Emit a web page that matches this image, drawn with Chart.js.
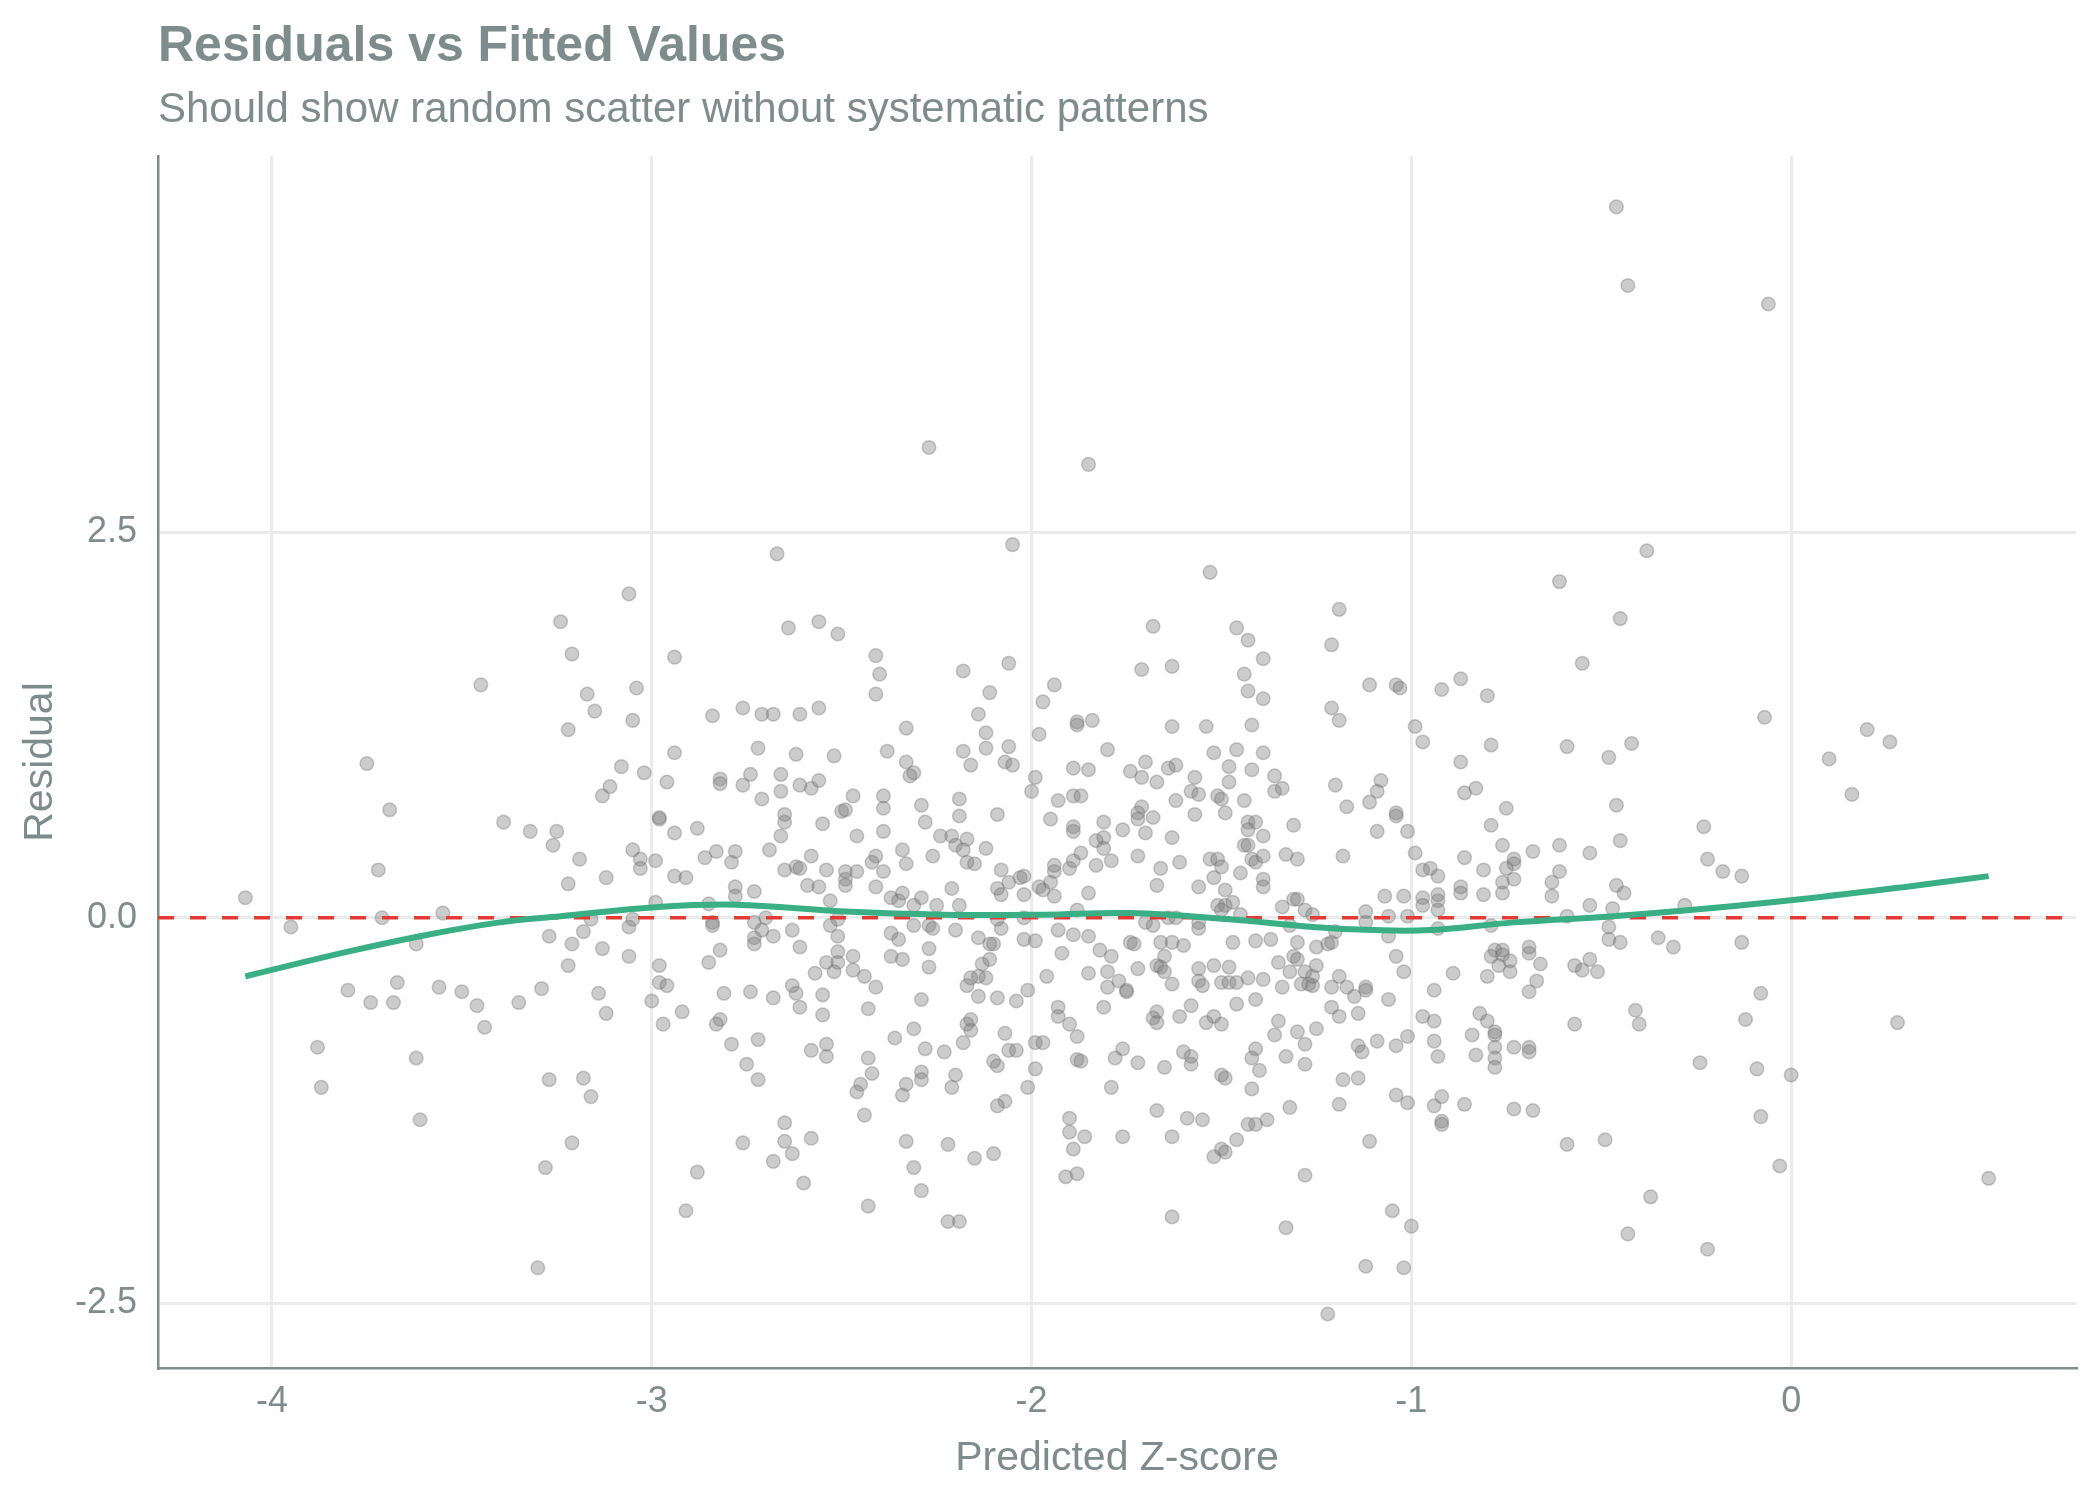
<!DOCTYPE html>
<html>
<head>
<meta charset="utf-8">
<script src="https://cdn.jsdelivr.net/npm/chart.js@4.4.0/dist/chart.umd.min.js"></script>
<style>
html,body{margin:0;padding:0;background:#ffffff;}
#wrap{position:relative;width:2100px;height:1500px;overflow:hidden;}
canvas{position:absolute;left:0;top:0;}
#title{position:absolute;left:158px;top:19px;font:bold 50px "Liberation Sans",Arial,sans-serif;color:#7F8C8D;line-height:1;white-space:nowrap;}
#subtitle{position:absolute;left:158px;top:87px;font:42px "Liberation Sans",Arial,sans-serif;color:#7F8C8D;line-height:1;white-space:nowrap;}
</style>
</head>
<body>
<div id="wrap">
<canvas id="c" width="2100" height="1500" style="width:2100px;height:1500px;"></canvas>
<div id="title">Residuals vs Fitted Values</div>
<div id="subtitle">Should show random scatter without systematic patterns</div>
</div>
<script>
// ---------- DATA ----------
const chartTitle = "Residuals vs Fitted Values";
const chartSubtitle = "Should show random scatter without systematic patterns";
const xAxisTitle = "Predicted Z-score";
const yAxisTitle = "Residual";

const xTickValues = [-4, -3, -2, -1, 0];
const xTickLabels = ["-4", "-3", "-2", "-1", "0"];
const yTickValues = [-2.5, 0, 2.5];
const yTickLabels = ["-2.5", "0.0", "2.5"];

const xRange = [-4.30, 0.75];
const yRange = [-2.92, 4.94];

// fitted values (x) and residuals (y)
const fittedVals = [
-4.07,-3.95,-3.75,-3.69,-3.72,-3.71,-3.80,-3.74,-3.67,-3.68,-3.88,-3.87,-3.62,-3.61,-3.62,-3.55,-3.56,-3.50,-3.46,-3.44,
-3.45,-3.39,-3.32,-3.35,-3.29,-3.25,-3.26,-3.27,-3.22,-3.19,-3.21,-3.22,-3.24,-3.21,-3.22,-3.17,-3.15,-3.06,-3.04,-3.05,
-3.08,-3.11,-3.13,-3.12,-3.05,-3.03,-3.03,-3.16,-3.18,-3.13,-3.06,-3.05,-3.06,-3.14,-3.12,-3.18,-3.16,-3.27,-3.21,-3.28,
-3.30,-3.00,
-2.67,-2.05,-2.64,-2.56,-2.51,-2.94,-2.41,-2.40,-2.41,-2.18,-2.06,-2.11,-2.14,-2.12,-2.12,-2.06,-2.07,-2.05,-2.18,-2.16,
-2.84,-2.76,-2.71,-2.68,-2.61,-2.56,-2.33,-2.38,-2.33,-2.32,-2.31,-2.94,-2.72,-2.62,-2.52,-3.02,-2.96,-2.82,-2.82,-2.74,
-2.76,-2.66,-2.66,-2.71,-2.61,-2.58,-2.56,-2.47,-2.50,-2.49,-2.98,-2.98,-2.94,-2.88,-2.65,-2.65,-2.66,-2.69,-2.55,-2.46,
-2.39,-2.39,-2.39,-2.29,-2.28,-2.19,-2.19,-2.09,-2.00,-2.99,-2.94,-2.91,-2.86,-2.83,-2.79,-2.78,-2.78,-2.78,-2.73,-2.99,
-2.85,-2.65,-2.62,-2.61,-2.58,-2.59,-2.56,-2.54,-2.53,-2.49,-2.49,-2.49,-2.46,-2.41,-2.42,-2.39,-2.41,-2.34,-2.33,-2.37,
-2.35,-2.34,-2.31,-2.29,-2.26,-2.25,-2.24,-2.21,-2.20,-2.17,-2.18,-2.17,-2.15,-2.12,-2.21,-2.19,-2.08,-2.06,-2.09,-2.08,
-2.03,-2.02,-2.02,
-2.84,-2.84,-2.73,-2.70,-2.71,-2.73,-2.73,-2.68,-2.63,-2.61,-2.82,-2.85,-2.98,-2.98,-2.96,-2.92,-2.97,-2.81,-2.82,-2.83,
-2.74,-2.68,-2.63,-2.62,-2.61,-2.79,-2.72,-2.75,-2.72,-2.58,-2.54,-2.54,-2.57,-2.55,-2.55,-2.53,-2.51,-2.51,-2.51,-2.54,
-2.51,-2.52,-2.47,-2.47,-2.44,-2.41,-2.43,-2.43,-2.42,-2.45,-2.46,-2.44,-2.65,-2.65,-2.63,-2.58,-2.68,-2.76,-2.60,-2.88,
-2.91,-2.43,-2.37,-2.35,-2.37,-2.34,-2.31,-2.27,-2.26,-2.20,-2.27,-2.27,-2.29,-2.31,-2.36,-2.28,-2.23,-2.18,-2.29,-2.29,
-2.33,-2.34,-2.20,-2.21,-2.33,-2.31,-2.29,-2.22,-2.22,-2.19,-2.15,-2.10,-2.07,-2.10,-2.09,-2.06,-2.04,-2.07,-2.09,-2.01,
-2.17,-2.16,-2.16,-2.01,-2.04,-2.09,-2.14,-2.12,-2.17,-2.16,-2.14,-2.13,-2.11,-2.14,-2.11,-2.10,-2.02,-2.08,-2.09,-2.02,
-1.53,-1.19,-1.68,-1.46,-1.43,-1.39,-1.21,-1.71,-1.63,-1.44,-1.43,-1.39,-1.94,-1.97,-1.98,-1.11,-1.04,-1.03,-1.21,-1.19,
-0.99,-1.88,-1.88,-1.84,-1.63,-1.54,-1.42,-1.80,-1.52,-1.46,-1.39,-1.89,-1.85,-1.99,-1.70,-1.74,-1.71,-1.67,-1.64,-1.62,
-1.57,-1.48,-1.42,-1.48,-1.36,-1.36,-1.34,-1.20,-1.17,-1.08,-1.09,-1.11,-1.04,-1.04,-1.09,-1.01,-1.18,-0.99,-1.07,-1.02,
-1.93,-1.89,-1.87,-1.95,-1.89,-1.89,-1.81,-1.83,-1.81,-1.81,-1.76,-1.71,-1.72,-1.72,-1.68,-1.70,-1.62,-1.57,-1.58,-1.56,
-1.51,-1.50,-1.49,-1.44,-1.63,-1.43,-1.41,-1.43,-1.39,-1.44,-1.43,-1.42,-1.41,-1.39,-1.31,-1.33,-1.30,-1.98,-1.97,-1.95,
-1.94,-1.94,-1.94,-1.90,-1.89,-1.87,-1.83,-1.79,-1.85,-1.88,-1.72,-1.66,-1.61,-1.67,-1.56,-1.53,-1.51,-1.50,-1.52,-1.45,
-1.49,-1.39,-1.39,-1.51,-1.49,-1.47,-1.50,-1.45,-1.34,-1.31,-1.30,-1.28,-1.26,-1.12,-1.06,-1.01,
-1.99,-1.99,-1.99,-1.97,-1.93,-1.89,-1.85,-1.92,-1.96,-1.85,-1.82,-1.79,-1.80,-1.80,-1.77,-1.75,-1.75,-1.74,-1.73,-1.72,
-1.70,-1.68,-1.66,-1.63,-1.60,-1.65,-1.67,-1.66,-1.65,-1.63,-1.93,-1.93,-1.90,-1.88,-1.81,-1.67,-1.68,-1.67,-1.61,-1.58,
-1.64,-1.62,-1.56,-1.56,-1.56,-1.56,-1.55,-1.52,-1.48,-1.50,-1.48,-1.46,-1.47,-1.43,-1.39,-1.41,-1.37,-1.46,-1.41,-1.52,
-1.54,-1.50,-1.35,-1.36,-1.35,-1.34,-1.32,-1.31,-1.30,-1.30,-1.32,-1.28,-1.29,-1.27,-1.26,-1.26,-1.25,-1.25,-1.22,-1.21,
-1.19,-1.21,-1.21,-1.19,-1.17,-1.15,-1.14,-1.12,-1.12,-1.06,-1.06,-1.04,-1.02,-1.12,-1.20,-1.30,-1.28,-1.28,-1.25,-1.33,
-1.41,-1.42,-1.40,-1.42,-1.50,-1.49,-1.60,-1.58,-1.58,-1.65,-1.72,-1.76,-1.78,-1.88,-1.87,-1.79,-1.67,-1.59,-1.55,-1.63,
-1.76,-1.90,-1.90,-1.86,-1.89,-1.91,-1.88,-1.63,-1.52,-1.50,-1.49,-1.46,-1.43,-1.41,-1.38,-1.32,-1.28,-1.33,-1.18,-1.14,
-1.19,-1.14,-1.13,-1.09,-1.04,-1.01,-1.04,-1.01,-1.11,-1.05,-1.00,-1.12,-1.02,-1.22,
-0.38,-0.61,-0.45,-0.55,-0.92,-0.87,-0.80,-0.07,-0.97,-0.79,-0.59,-0.48,-0.42,-0.87,-0.86,-0.83,-0.75,-0.79,-0.46,-0.23,
-0.45,-0.61,-0.76,-0.68,-0.53,-0.86,-0.97,-0.95,-0.93,-0.81,-0.73,-0.73,-0.75,-0.73,-0.76,-0.76,-0.81,-0.87,-0.87,-0.93,
-0.97,-0.97,-0.93,-0.93,-0.61,-0.63,-0.63,-0.59,-0.53,-0.46,-0.44,-0.47,-0.28,-0.22,-0.18,-0.13,
-0.93,-0.79,-0.48,-0.48,-0.45,-0.35,-0.31,-0.13,-0.08,-0.12,-0.89,-0.94,-0.97,-0.94,-0.94,-0.93,-0.94,-0.92,-0.86,-0.92,
-0.92,-0.78,-0.76,-0.79,-0.76,-0.74,-0.77,-0.80,-0.74,-0.69,-0.69,-0.66,-0.67,-0.69,-0.57,-0.55,-0.53,-0.51,-0.82,-0.80,
-0.78,-0.78,-0.84,-0.78,-0.83,-0.78,-0.78,-0.73,-0.69,-0.69,-0.57,-0.41,-0.40,-0.24,-0.09,0.00,-0.08,-0.03,-0.73,-0.68,
-0.59,-0.49,-0.37,-0.43,-0.22,
0.10,0.20,0.26,0.16,0.28,0.52,-0.46,-0.43,-0.06,-2.27,-1.85
];
const residualVals = [
0.13,-0.06,1.00,0.70,0.31,0.00,-0.47,-0.55,-0.42,-0.55,-0.84,-1.10,-0.91,-1.31,-0.17,0.03,-0.45,-0.48,-0.57,-0.71,
1.51,0.62,0.56,-0.55,-0.46,0.56,0.47,-0.12,0.22,0.38,-0.17,-0.31,1.92,1.71,1.22,1.45,1.34,2.10,1.49,1.28,
0.98,0.85,0.79,0.26,0.44,0.38,0.32,-0.01,-0.09,-0.20,-0.06,-0.01,-0.25,-0.49,-0.62,-1.04,-1.16,-1.05,-1.46,-1.62,
-2.27,-0.54,
2.36,2.42,1.88,1.92,1.84,1.69,1.70,1.58,1.45,1.60,1.65,1.46,1.32,1.20,1.10,1.11,1.01,0.99,1.08,0.99,
1.31,1.36,1.32,1.32,1.32,1.36,1.23,1.08,1.01,0.92,0.94,1.07,1.10,1.06,1.05,0.94,0.88,0.90,0.87,0.93,
0.86,0.93,0.82,0.77,0.86,0.84,0.89,0.79,0.69,0.70,0.64,0.65,0.55,0.58,0.67,0.62,0.53,0.44,0.61,0.53,
0.79,0.71,0.56,0.73,0.62,0.77,0.66,0.67,0.82,0.37,0.27,0.26,0.39,0.43,0.36,0.43,0.20,0.14,0.17,0.10,
0.09,0.31,0.33,0.32,0.40,0.21,0.20,0.31,0.11,0.30,0.25,0.21,0.30,0.40,0.36,0.30,0.20,0.44,0.35,0.13,
0.11,0.16,0.08,0.13,0.40,0.08,0.53,0.53,0.47,0.51,0.44,0.36,0.35,0.45,0.19,0.08,0.31,0.23,0.19,0.15,
0.26,0.27,0.15,
-0.03,-0.05,-0.03,0.00,-0.08,-0.13,-0.17,-0.12,-0.08,-0.19,-0.21,-0.29,-0.31,-0.42,-0.44,-0.61,-0.69,-0.49,-0.66,-0.69,
-0.48,-0.52,-0.44,-0.49,-0.58,-0.82,-0.79,-0.95,-1.05,-0.86,-0.82,-0.90,-0.36,-0.50,-0.63,-0.05,-0.01,-0.12,-0.22,-0.29,
-0.29,-0.35,-0.25,-0.34,-0.38,-0.45,-0.59,-0.91,-1.01,-1.08,-1.13,-1.28,-1.33,-1.45,-1.53,-1.43,-1.58,-1.46,-1.72,-1.65,
-1.90,-1.87,-0.10,-0.14,-0.25,-0.27,-0.05,-0.05,-0.07,-0.08,-0.20,-0.32,-0.53,-0.72,-0.78,-0.85,-0.87,-0.81,-1.00,-1.05,
-1.08,-1.15,-1.02,-1.10,-1.45,-1.62,-1.77,-1.47,-1.97,-1.97,-1.56,-1.53,-0.75,-0.93,-0.96,-0.86,-0.86,-1.19,-1.22,-1.10,
-0.69,-0.66,-0.73,-0.47,-0.54,-0.52,-0.51,-0.39,-0.44,-0.39,-0.38,-0.30,-0.27,-0.13,-0.17,-0.17,-0.14,-0.07,-0.01,0.00,
2.24,2.00,1.89,1.88,1.80,1.68,1.77,1.61,1.63,1.58,1.47,1.42,1.51,1.40,1.19,1.51,1.51,1.49,1.36,1.28,
1.24,1.27,1.25,1.28,1.24,1.24,1.25,1.09,1.07,1.09,1.07,0.97,0.96,0.91,1.01,0.95,0.91,0.88,0.97,0.99,
0.91,0.98,0.96,0.88,0.92,0.82,0.84,0.86,0.72,0.89,0.82,0.75,0.68,0.66,0.56,0.56,0.40,0.42,0.14,0.14,
0.76,0.79,0.79,0.64,0.59,0.56,0.62,0.50,0.52,0.45,0.57,0.72,0.68,0.64,0.65,0.55,0.76,0.67,0.82,0.80,
0.79,0.77,0.68,0.76,0.52,0.62,0.62,0.57,0.53,0.47,0.47,0.38,0.36,0.40,0.60,0.41,0.38,0.20,0.18,0.23,
0.30,0.34,0.14,0.32,0.37,0.42,0.34,0.37,0.16,0.05,0.40,0.32,0.36,0.21,0.20,0.38,0.38,0.33,0.26,0.29,
0.18,0.25,0.20,0.08,0.08,0.10,0.05,0.02,0.07,0.12,0.12,0.05,0.02,0.04,0.01,0.01,
-0.15,-0.98,-0.81,-0.81,-0.08,-0.11,-0.12,-0.23,-0.38,-0.36,-0.21,-0.25,-0.35,-0.45,-0.41,-0.48,-0.47,-0.16,-0.17,-0.33,
-0.03,-0.05,-0.16,-0.16,-0.18,-0.25,-0.31,-0.32,-0.35,-0.43,-0.58,-0.64,-0.69,-0.77,-0.58,-0.61,-0.65,-0.68,-0.64,-0.57,
0.00,0.00,-0.03,-0.07,-0.33,-0.41,-0.44,-0.31,-0.32,-0.42,-0.42,-0.42,-0.16,-0.39,-0.40,-0.15,-0.14,-0.56,-0.53,-0.64,
-0.68,-0.69,-0.67,-0.76,-0.29,-0.45,-0.35,-0.25,-0.27,-0.16,-0.05,-0.35,-0.43,-0.43,-0.44,-0.38,-0.31,-0.19,-0.17,-0.16,
-0.38,-0.45,-0.58,-0.64,-0.45,-0.51,-0.62,-0.45,-0.47,-0.53,-0.12,-0.25,-0.35,-0.03,-0.09,-0.74,-0.82,-0.95,-0.72,-0.90,
-0.85,-0.91,-0.99,-1.11,-1.02,-1.04,-0.87,-0.90,-0.95,-0.97,-0.94,-0.85,-0.91,-0.92,-0.93,-1.10,-1.25,-1.30,-1.31,-1.42,
-1.42,-1.30,-1.39,-1.42,-1.50,-1.68,-1.66,-1.94,-1.55,-1.50,-1.52,-1.44,-1.34,-1.34,-1.31,-1.23,-1.67,-2.01,-1.05,-1.04,
-1.21,-0.83,-0.87,-0.80,-0.83,-0.77,-1.15,-1.20,-1.45,-1.90,-2.00,-2.26,-2.27,-2.57,
2.38,2.18,1.94,1.65,1.48,1.55,1.44,1.30,1.14,1.12,1.11,1.04,1.13,1.01,0.81,0.84,0.71,0.60,0.73,0.59,
0.50,0.47,0.47,0.43,0.42,0.39,0.31,0.32,0.27,0.31,0.38,0.35,0.32,0.25,0.23,0.16,0.15,0.20,0.16,0.15,
0.13,0.08,0.11,0.05,0.30,0.23,0.14,0.01,0.08,0.21,0.16,0.06,0.08,0.38,0.30,0.27,
-0.07,-0.05,-0.06,-0.14,-0.16,-0.13,-0.19,-0.16,-0.49,-0.66,-0.36,-0.47,-0.64,-0.67,-0.80,-0.90,-1.22,-1.16,-1.21,-1.32,
-1.34,-0.21,-0.21,-0.25,-0.24,-0.28,-0.31,-0.38,-0.35,-0.23,-0.19,-0.30,-0.41,-0.48,-0.31,-0.34,-0.27,-0.35,-0.62,-0.67,
-0.74,-0.76,-0.76,-0.84,-0.89,-0.91,-0.97,-0.84,-0.84,-0.87,-0.69,-0.60,-0.69,-0.94,-0.98,-1.02,-1.29,-1.61,-1.24,-1.25,
-1.47,-1.44,-1.81,-2.05,-2.15,
1.03,1.22,1.14,0.80,-0.68,-1.69,4.61,4.10,3.98,3.05,2.94
];

// smoothed (loess) trend
const smoothX = [-4.07,-3.80,-3.59,-3.40,-3.24,-2.98,-2.78,-2.49,-2.23,-1.97,-1.74,-1.48,-1.26,-1.10,-0.95,-0.73,-0.47,-0.20,0.06,0.30,0.52];
const smoothY = [-0.38,-0.22,-0.11,-0.03,0.01,0.07,0.085,0.04,0.02,0.02,0.03,-0.01,-0.06,-0.08,-0.08,-0.03,0.01,0.065,0.13,0.20,0.27];

const zeroLineY = 0;

// ---------- CHART ----------
const FONT = '"Liberation Sans", Arial, sans-serif';
const GRAY = '#7F8C8D';

const n = Math.min(fittedVals.length, residualVals.length);
const scatterPoints = [];
for (let i = 0; i < n; i++) scatterPoints.push({x: fittedVals[i], y: residualVals[i]});
const smoothPoints = smoothX.map((x, i) => ({x: x, y: smoothY[i]}));
const zeroPoints = [{x: xRange[0], y: zeroLineY}, {x: xRange[1], y: zeroLineY}];

document.getElementById('title').textContent = chartTitle;
document.getElementById('subtitle').textContent = chartSubtitle;

new Chart(document.getElementById('c'), {
  type: 'scatter',
  data: {
    datasets: [
      {
        label: 'Smooth',
        data: smoothPoints,
        showLine: true,
        borderColor: '#3AAF85',
        borderWidth: 6,
        tension: 0.4,
        pointRadius: 0,
        fill: false,
        order: 0
      },
      {
        label: 'Zero',
        data: zeroPoints,
        showLine: true,
        borderColor: '#E53935',
        borderWidth: 3.5,
        borderDash: [16, 16],
        pointRadius: 0,
        fill: false,
        order: 1
      },
      {
        label: 'Residuals',
        data: scatterPoints,
        pointRadius: 6.8,
        pointHoverRadius: 6.8,
        backgroundColor: 'rgba(127,127,127,0.4)',
        borderColor: 'rgba(110,110,110,0.35)',
        borderWidth: 1.5,
        order: 2
      }
    ]
  },
  options: {
    responsive: false,
    devicePixelRatio: 1,
    animation: false,
    layout: {padding: {left: 0, right: 24, top: 156, bottom: 0}},
    plugins: {
      legend: {display: false},
      tooltip: {enabled: false}
    },
    scales: {
      x: {
        type: 'linear',
        min: xRange[0],
        max: xRange[1],
        afterBuildTicks: (s) => { s.ticks = xTickValues.map(v => ({value: v})); },
        afterFit: (s) => { s.height = 132; },
        grid: {color: '#EBEBEB', lineWidth: 3, drawTicks: false},
        border: {display: true, color: GRAY, width: 2.5},
        ticks: {
          padding: 12,
          color: GRAY,
          font: {family: FONT, size: 36},
          maxRotation: 0,
          callback: (v) => { const i = xTickValues.indexOf(v); return i >= 0 ? xTickLabels[i] : ''; }
        },
        title: {display: true, text: xAxisTitle, color: GRAY, font: {family: FONT, size: 41}, padding: {top: 0, bottom: 17}}
      },
      y: {
        type: 'linear',
        min: yRange[0],
        max: yRange[1],
        afterBuildTicks: (s) => { s.ticks = yTickValues.map(v => ({value: v})); },
        afterFit: (s) => { s.width = 158; },
        grid: {color: '#EBEBEB', lineWidth: 3, drawTicks: false},
        border: {display: true, color: GRAY, width: 2.5},
        ticks: {
          padding: 21,
          color: GRAY,
          font: {family: FONT, size: 36},
          callback: (v) => { const i = yTickValues.indexOf(v); return i >= 0 ? yTickLabels[i] : ''; }
        },
        title: {display: true, text: yAxisTitle, color: GRAY, font: {family: FONT, size: 41}, padding: {top: 16, bottom: 0}}
      }
    }
  }
});
</script>
</body>
</html>
